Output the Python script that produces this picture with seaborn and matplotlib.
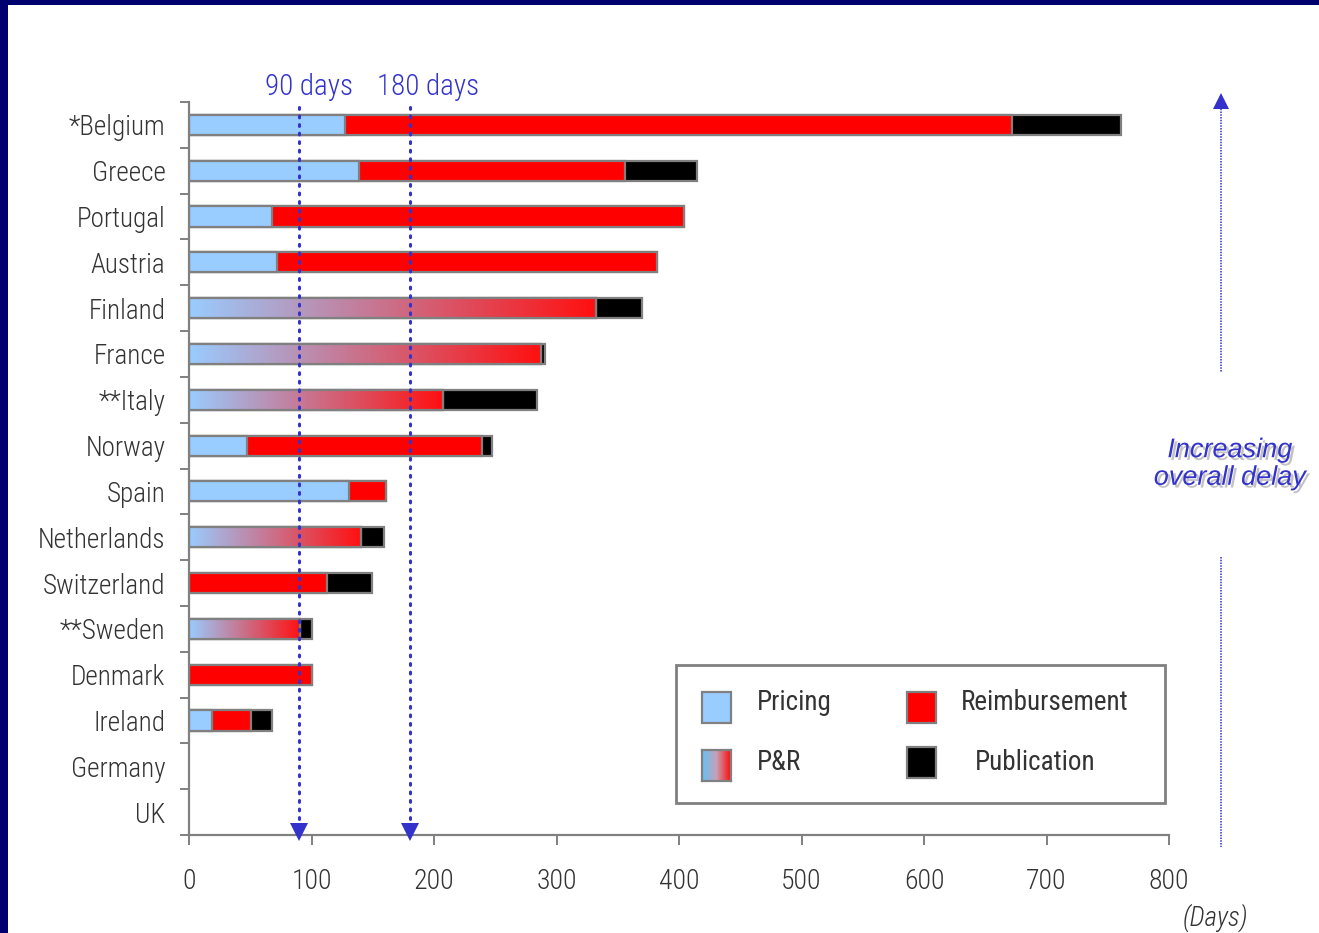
import numpy as np
import pandas as pd
import matplotlib
matplotlib.use("Agg")
import matplotlib.pyplot as plt
import seaborn as sns
from matplotlib.patches import Rectangle, Polygon
from matplotlib.colors import LinearSegmentedColormap
from matplotlib import patheffects, font_manager

# ---- data (days) ----
countries = ["*Belgium", "Greece", "Portugal", "Austria", "Finland", "France",
             "**Italy", "Norway", "Spain", "Netherlands", "Switzerland",
             "**Sweden", "Denmark", "Ireland", "Germany", "UK"]
pricing = [127, 139, 68, 72, 0, 0, 0, 47, 131, 0, 0, 0, 0, 19, 0, 0]
pricing_and_reimb = [0, 0, 0, 0, 332, 287, 207, 0, 0, 140, 0, 91, 0, 0, 0, 0]
reimbursement = [545, 217, 336, 310, 0, 0, 0, 192, 30, 0, 113, 0, 100, 32, 0, 0]
publication = [89, 59, 0, 0, 38, 4, 77, 8, 0, 19, 36, 9, 0, 17, 0, 0]
x_ticks = [0, 100, 200, 300, 400, 500, 600, 700, 800]
reference_days = [90, 180]
reference_labels = ["90 days", "180 days"]
legend_labels = ["Pricing", "Reimbursement", "P&R", "Publication"]

W, H = 1319, 933
NAVY = "#00006E"
BLUE = "#3333CC"
GREY = "#808080"
TXT = "#333333"
C_PRICING = "#99CCFF"
C_REIMB = "#FF0000"
C_PUB = "#000000"

sns.set_style("white")

# pick a narrow sans face for the labels
ttf = font_manager.fontManager.ttflist
names = {f.name for f in ttf}
STRETCH = "normal"
NARROW = None
for cand in ["Liberation Sans Narrow", "Roboto Condensed", "Open Sans Condensed",
             "DejaVu Sans Condensed"]:
    if cand in names:
        NARROW = cand
        break
if NARROW is None:
    NARROW = "DejaVu Sans"
    if any(f.name == "DejaVu Sans" and str(f.stretch) in ("condensed", "semi-condensed")
           for f in ttf):
        STRETCH = "condensed"
LIGHT = "light" if any(f.name == NARROW and f.weight in (300, "light") for f in ttf) else "normal"
REGULAR = "Liberation Sans" if "Liberation Sans" in names else "DejaVu Sans"
plt.rcParams["font.family"] = [NARROW, "DejaVu Sans"]
plt.rcParams["font.stretch"] = STRETCH
plt.rcParams["font.weight"] = LIGHT


def fx(x):
    return x / W


def fy(y):
    return 1 - y / H


df = pd.DataFrame({
    "country": countries,
    "first": np.array(pricing) + np.array(pricing_and_reimb),
    "pricing": pricing,
    "pr": pricing_and_reimb,
})
df["upto_reimb"] = df["first"] + np.array(reimbursement)
df["total"] = df["upto_reimb"] + np.array(publication)

fig = plt.figure(figsize=(W / 100, H / 100), dpi=100, facecolor=NAVY)
fig.add_artist(Rectangle((fx(8), 0), 1 - fx(8), fy(5), transform=fig.transFigure,
                         facecolor="white", edgecolor="none", zorder=-10))
ax = fig.add_axes([fx(189), fy(835), fx(1169) - fx(189), fy(102) - fy(835)])
ax.set_facecolor("white")

bar_kw = dict(orient="h", width=0.44, saturation=1, errorbar=None,
              edgecolor=GREY, linewidth=1.6, ax=ax)

# stacked bars: cumulative totals drawn back to front
layers = {}
for key, col, color in [("pub", "total", C_PUB), ("reimb", "upto_reimb", C_REIMB),
                        ("pricing", "pricing", C_PRICING), ("pr", "pr", "white")]:
    n0 = len(ax.patches)
    sns.barplot(data=df, y="country", x=col, color=color, **bar_kw)
    layers[key] = list(ax.patches[n0:])

for key, patches in layers.items():
    for p in patches:
        if p.get_width() <= 0:
            p.set_visible(False)

# gradient fill for the combined pricing & reimbursement phase
grad_cmap = LinearSegmentedColormap.from_list("pr", [C_PRICING, "#FF1010"])
grad = np.linspace(0, 1, 256).reshape(1, -1)
for p in layers["pr"]:
    if p.get_width() <= 0:
        continue
    x0, y0, w, h = p.get_x(), p.get_y(), p.get_width(), p.get_height()
    z = p.get_zorder()
    im = ax.imshow(grad, extent=(x0, x0 + w, y0 + h, y0), aspect="auto",
                   cmap=grad_cmap, interpolation="bilinear", zorder=z + 0.01)
    im.set_clip_path(p)
    p.set_facecolor("none")
    p.set_zorder(z + 0.02)

ax.set_xlim(0, 800)
ax.set_ylim(len(countries) - 0.5, -0.5)
ax.set_xticks(x_ticks)
ax.set_xticklabels([str(t) for t in x_ticks])
ax.set_xlabel("")
ax.set_ylabel("")
ax.set_yticks(range(len(countries)))
ax.set_yticklabels(countries)
ax.set_yticks(np.arange(-0.5, len(countries), 1.0), minor=True)

for side in ["top", "right"]:
    ax.spines[side].set_visible(False)
for side in ["left", "bottom"]:
    ax.spines[side].set_color(GREY)
    ax.spines[side].set_linewidth(1.6)

ax.tick_params(axis="x", which="major", direction="out", length=7.5, width=1.4,
               color=GREY, labelsize=20, labelcolor=TXT, pad=16, bottom=True)
ax.tick_params(axis="y", which="major", length=0, labelsize=19.5, labelcolor=TXT, pad=17)
ax.tick_params(axis="y", which="minor", direction="out", length=6.5, width=1.4,
               color=GREY, left=True)

# reference day markers
trans = ax.get_xaxis_transform()
for d, lab in zip(reference_days, reference_labels):
    ax.plot([d, d], [0.993, 0.014], transform=trans, color=BLUE, lw=2.2,
            linestyle=(0, (0.6, 2.2)), dash_capstyle="round", clip_on=False, zorder=5)
    ax.plot([d], [0.004], transform=trans, marker="v", markersize=13, color=BLUE,
            markeredgewidth=0, clip_on=False, zorder=5)
for lab, cx in zip(reference_labels, [309, 428]):
    fig.text(fx(cx), fy(87), lab, color=BLUE, fontsize=21, ha="center", va="center")

# overall delay arrow on the right
xr = fx(1221)
fig.add_artist(plt.Line2D([xr, xr], [fy(106), fy(372)], transform=fig.transFigure,
                          color=BLUE, lw=1.1, linestyle=(0, (1, 0.8))))
fig.add_artist(plt.Line2D([xr, xr], [fy(557), fy(847)], transform=fig.transFigure,
                          color=BLUE, lw=1.1, linestyle=(0, (1, 0.8))))
fig.add_artist(Polygon([[fx(1213), fy(109)], [fx(1229), fy(109)], [fx(1221), fy(93)]],
                       closed=True, transform=fig.transFigure, facecolor=BLUE,
                       edgecolor="none"))
fig.text(fx(1230), fy(464), "Increasing\noverall delay", color=BLUE, fontsize=19.5,
         family=[REGULAR, "DejaVu Sans"], style="italic", stretch="normal",
         weight="normal", ha="center", va="center", linespacing=1.08,
         path_effects=[patheffects.SimplePatchShadow(offset=(2, -2), shadow_rgbFace="#9A9A9A",
                                                      alpha=0.6),
                       patheffects.Normal()])
fig.text(fx(1215), fy(918), "(Days)", color=TXT, fontsize=19.5, style="italic",
         ha="center", va="center")

# legend box
fig.add_artist(Rectangle((fx(676), fy(803)), fx(1165) - fx(676), fy(665) - fy(803),
                         transform=fig.transFigure, facecolor="white", edgecolor=GREY,
                         lw=2, zorder=6))
swatches = [(C_PRICING, 702, 692), (C_REIMB, 907, 692), (None, 702, 750), (C_PUB, 907, 747)]
text_pos = [(757, 703), (961, 703), (757, 763), (975, 763)]
for (col, sx, sy), lab, (tx, ty) in zip(swatches, legend_labels, text_pos):
    if col is None:
        sax = fig.add_axes([fx(sx), fy(sy + 31), fx(29), fy(0) - fy(31)], zorder=7)
        sax.imshow(grad, aspect="auto", interpolation="bilinear",
                   cmap=LinearSegmentedColormap.from_list("lg", ["#5EC4F8", "#C8A0B8", "#FF0A0A"]))
        sax.set_xticks([])
        sax.set_yticks([])
        for s in sax.spines.values():
            s.set_color(GREY)
            s.set_linewidth(1.6)
    else:
        fig.add_artist(Rectangle((fx(sx), fy(sy + 31)), fx(29), fy(0) - fy(31),
                                 transform=fig.transFigure, facecolor=col,
                                 edgecolor=GREY, lw=1.6, zorder=7))
    fig.text(fx(tx), fy(ty), lab, color=TXT, fontsize=19.5, weight="normal",
             ha="left", va="center", zorder=8)

fig.savefig("out.png", dpi=100, facecolor=NAVY)
